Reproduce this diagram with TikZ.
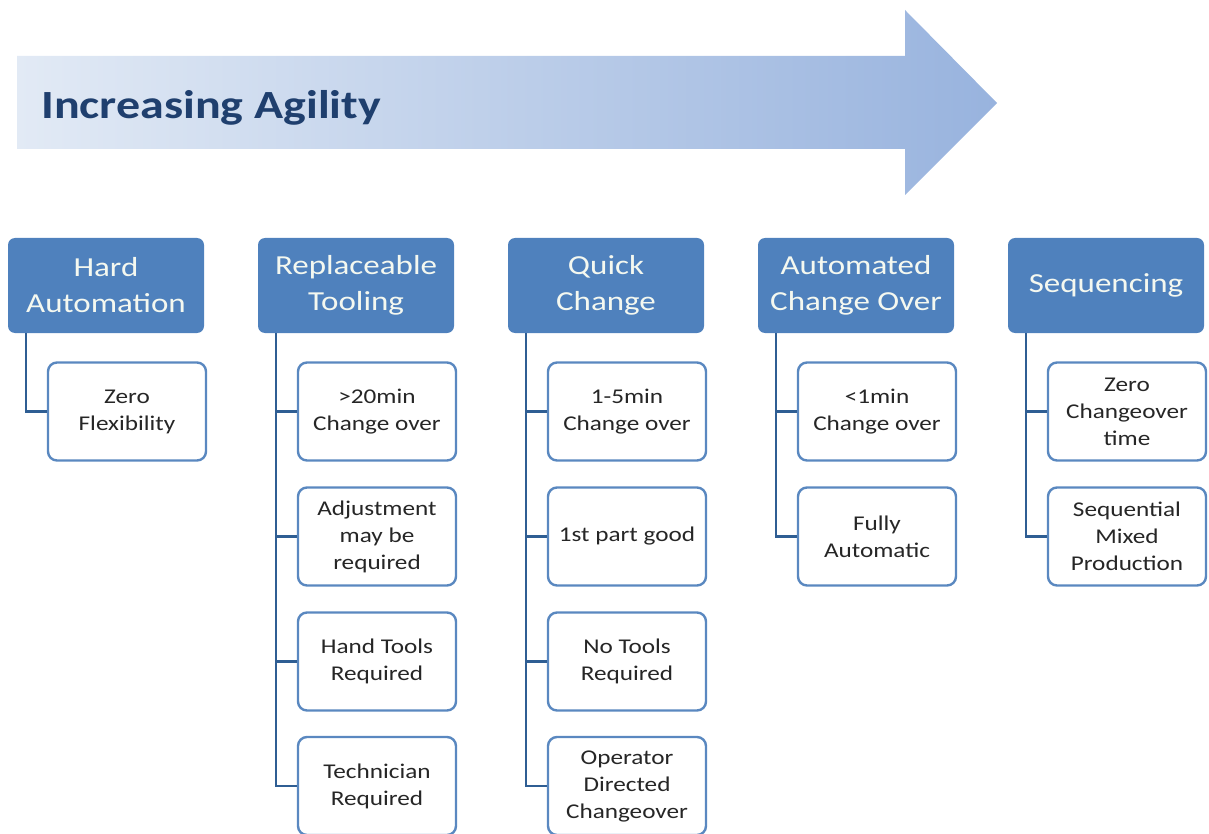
\documentclass[tikz,border=0pt]{standalone}
\usepackage{fontspec}
\setmainfont{Carlito}[FakeStretch=1.2]
\usetikzlibrary{positioning,calc}
\definecolor{hdrblue}{HTML}{4F81BD}
\definecolor{connblue}{HTML}{2F5E93}
\definecolor{boxline}{HTML}{5A88C0}
\definecolor{titleblue}{HTML}{1F3F6E}
\definecolor{arrowL}{HTML}{E2EAF5}
\definecolor{arrowR}{HTML}{98B3DE}
\definecolor{hdrtext}{HTML}{F4F8F0}
\begin{document}
\begin{tikzpicture}[x=1pt,y=-1pt,
  hdr/.style={rectangle,rounded corners=7pt,fill=hdrblue,text=hdrtext,
    minimum width=196pt,minimum height=95pt,inner sep=2pt,align=center,
    font=\fontsize{27.5}{36}\selectfont},
  child/.style={rectangle,rounded corners=9pt,draw=boxline,line width=2.4pt,fill=white,
    text=black!85,minimum width=158pt,minimum height=98pt,inner sep=2pt,align=center,
    font=\fontsize{21}{27}\selectfont},
  conn/.style={draw=connblue,line width=2.6pt}]
\useasboundingbox (0,0) rectangle (1209,834);
% big arrow
\shade[left color=arrowL,right color=arrowR,shading angle=90]
  (17,56) -- (905,56) -- (905,10) -- (997,103) -- (905,195) -- (905,149) -- (17,149) -- cycle;
\node[anchor=base west,text=titleblue,font=\fontsize{40}{44}\bfseries\selectfont,inner sep=0pt] (title) at (41,119) {Increasing Agility};
% headers
\node[hdr] (h1) at (106,285.5) {Hard\\Automation};
\node[hdr] (h2) at (356,285.5) {Replaceable\\Tooling};
\node[hdr] (h3) at (606,285.5) {Quick\\Change};
\node[hdr] (h4) at (856,285.5) {Automated\\Change Over};
\node[hdr] (h5) at (1106,285.5) {Sequencing};
% column 1
\node[child] (c11) at (127,411.5) {Zero\\Flexibility};
% column 2
\node[child] (c21) at (377,411.5) {>20min\\Change over};
\node[child] (c22) at (377,536.5) {Adjustment\\may be\\required};
\node[child] (c23) at (377,661.5) {Hand Tools\\Required};
\node[child] (c24) at (377,786) {Technician\\Required};
% column 3
\node[child] (c31) at (627,411.5) {1-5min\\Change over};
\node[child] (c32) at (627,536.5) {1st part good};
\node[child] (c33) at (627,661.5) {No Tools\\Required};
\node[child] (c34) at (627,786) {Operator\\Directed\\Changeover};
% column 4
\node[child] (c41) at (877,411.5) {<1min\\Change over};
\node[child] (c42) at (877,536.5) {Fully\\Automatic};
% column 5
\node[child] (c51) at (1127,411.5) {Zero\\Changeover\\time};
\node[child] (c52) at (1127,536.5) {Sequential\\Mixed\\Production};
% connectors
\coordinate (v1) at ([xshift=18pt]h1.south west);
\coordinate (v2) at ([xshift=18pt]h2.south west);
\coordinate (v3) at ([xshift=18pt]h3.south west);
\coordinate (v4) at ([xshift=18pt]h4.south west);
\coordinate (v5) at ([xshift=18pt]h5.south west);
\draw[conn] (v1) |- (c11.west);
\draw[conn] (v2) |- (c24.west);
\draw[conn] (v2) |- (c21.west);
\draw[conn] (v2) |- (c22.west);
\draw[conn] (v2) |- (c23.west);
\draw[conn] (v3) |- (c34.west);
\draw[conn] (v3) |- (c31.west);
\draw[conn] (v3) |- (c32.west);
\draw[conn] (v3) |- (c33.west);
\draw[conn] (v4) |- (c42.west);
\draw[conn] (v4) |- (c41.west);
\draw[conn] (v5) |- (c52.west);
\draw[conn] (v5) |- (c51.west);
\end{tikzpicture}
\end{document}
